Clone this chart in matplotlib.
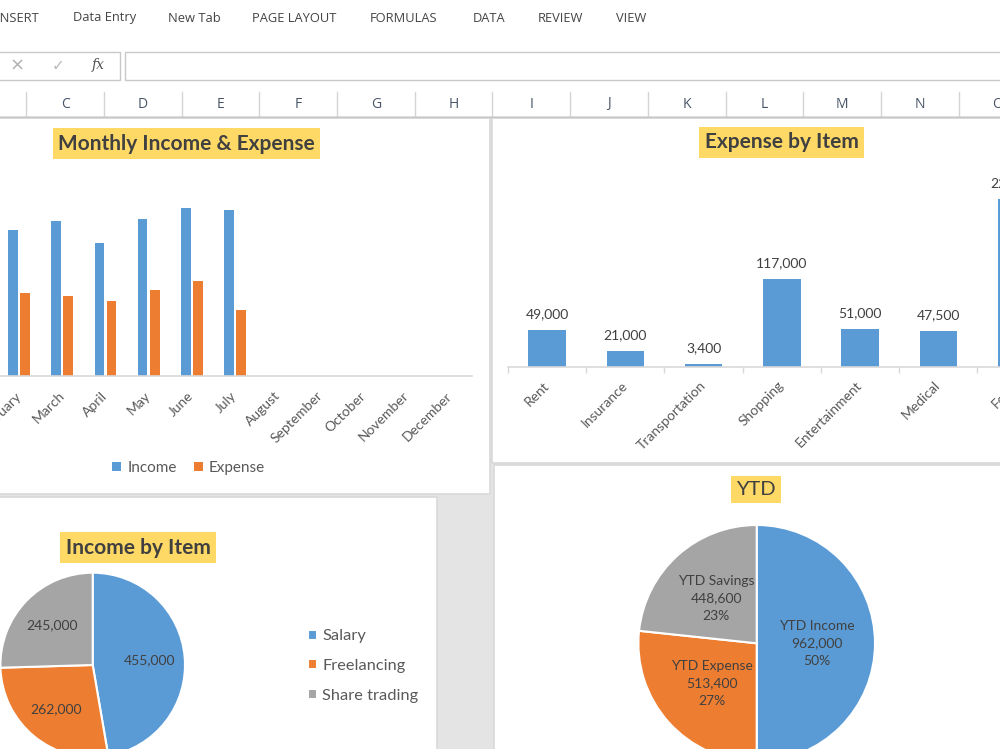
import numpy as np
import matplotlib
matplotlib.use('Agg')
import matplotlib.pyplot as plt
from matplotlib.patches import Rectangle

plt.rcParams['font.family'] = ['Lato', 'DejaVu Sans']

# ---- data ----
months = ['January', 'February', 'March', 'April', 'May', 'June', 'July',
          'August', 'September', 'October', 'November', 'December']
income = [132000, 131000, 139000, 119000, 141000, 151000, 149000]
expense = [78400, 74500, 71500, 67000, 77500, 85500, 59000]

exp_items = ['Rent', 'Insurance', 'Transportation', 'Shopping', 'Entertainment', 'Medical', 'Food']
exp_values = [49000, 21000, 3400, 117000, 51000, 47500, 224500]

inc_items = ['Salary', 'Freelancing', 'Share trading']
inc_values = [455000, 262000, 245000]

ytd_items = ['YTD Income', 'YTD Expense', 'YTD Savings']
ytd_values = [962000, 513400, 448600]

tabs = ['INSERT', 'Data Entry', 'New Tab', 'PAGE LAYOUT', 'FORMULAS', 'DATA', 'REVIEW', 'VIEW']
tab_x = [-3, 73, 168, 252, 370, 473, 538, 616]
col_letters = list('CDEFGHIJKLMNO')

blue, orange, grey = '#5b9bd5', '#ed7d31', '#a5a5a5'
gold = '#ffd966'
txt = '#595959'
dark = '#404040'

W, H = 1000, 749
fig = plt.figure(figsize=(10, 7.49), dpi=100)
fig.patch.set_facecolor('white')


def box(x0, y0, x1, y1):
    # pixel box (top-left origin) -> figure fraction rect
    return [x0 / W, 1 - y1 / H, (x1 - x0) / W, (y1 - y0) / H]


def rect(x0, y0, x1, y1, fc, ec='none', lw=1, z=-10):
    fig.add_artist(Rectangle((x0 / W, 1 - y1 / H), (x1 - x0) / W, (y1 - y0) / H,
                             transform=fig.transFigure, fc=fc, ec=ec, lw=lw, zorder=z))


# ---- excel chrome ----
for t, x in zip(tabs, tab_x):
    fig.text(x / W, 1 - 18 / H, t, fontsize=9.3, color='#444444', family='Open Sans',
             ha='left', va='center')

rect(-5, 52, 120, 80, 'white', '#c8c8c8', 1, z=-5)
rect(125, 52, 1010, 80, 'white', '#c8c8c8', 1, z=-5)
fig.text(17 / W, 1 - 66 / H, '\u00d7', fontsize=13, color='#b0b0b0', family='DejaVu Sans',
         ha='center', va='center')
fig.text(58 / W, 1 - 66 / H, '\u2713', fontsize=11, color='#b8b8b8', family='DejaVu Sans',
         ha='center', va='center')
fig.text(98 / W, 1 - 65 / H, 'fx', fontsize=10, color='#555555', family='DejaVu Serif',
         style='italic', ha='center', va='center')

for i, c in enumerate(col_letters):
    cx = 65 + i * 77.7
    fig.text(cx / W, 1 - 104 / H, c, fontsize=10, color='#465466', family='Open Sans',
             ha='center', va='center')
    fig.add_artist(plt.Line2D([(cx - 38.8) / W] * 2, [1 - 92 / H, 1 - 116 / H],
                              transform=fig.transFigure, color='#d4d4d4', lw=1, zorder=-5))

# sheet background + chart panels
rect(-5, 116, 1010, 760, '#e4e4e4')
fig.add_artist(plt.Line2D([0, 1], [1 - 116.5 / H] * 2, transform=fig.transFigure,
                          color='#c6c6c6', lw=1, zorder=-4))
rect(-10, 118, 490, 494, 'white', '#d9d9d9', 1.2, z=-8)
rect(492, 118, 1010, 463, 'white', '#d9d9d9', 1.2, z=-8)
rect(-10, 497, 436.5, 760, 'white', '#d9d9d9', 1.2, z=-8)
rect(493.5, 465, 1010, 760, 'white', '#d9d9d9', 1.2, z=-8)


def title(x, y, s, bold=True, size=15):
    fig.text(x / W, 1 - y / H, s, fontsize=size, color=dark,
             fontweight='bold' if bold else 'normal', ha='center', va='center',
             bbox=dict(boxstyle='square,pad=0.25', fc=gold, ec='none'))


# ---- chart 1: monthly income & expense ----
ax1 = fig.add_axes(box(-45.3, 175.7, 471.7, 375.7))
ax1.patch.set_visible(False)
x = np.arange(len(months))
n = len(income)
ax1.bar(x[:n] - 0.14, income, width=0.23, color=blue, label='Income')
ax1.bar(x[:n] + 0.14, expense, width=0.23, color=orange, label='Expense')
ax1.set_xlim(-0.5, 11.5)
ax1.set_ylim(0, 180000)
ax1.set_yticks([])
for s in ['top', 'right', 'left']:
    ax1.spines[s].set_visible(False)
ax1.spines['bottom'].set_color('#d9d9d9')
ax1.spines['bottom'].set_linewidth(1.2)
ax1.set_xticks(x, months, rotation=45, ha='right', va='center', rotation_mode='anchor')
ax1.tick_params(axis='x', length=0, pad=13, labelsize=10, labelcolor=txt)
ax1.legend(ncol=2, loc='center', bbox_to_anchor=(188.5 / W, 1 - 468 / H),
           bbox_transform=fig.transFigure, frameon=False, fontsize=11,
           handlelength=0.6, handleheight=0.6, handletextpad=0.4, columnspacing=1.1,
           labelcolor=txt)
title(186.5, 143.5, 'Monthly Income & Expense')

# ---- chart 2: expense by item ----
ax2 = fig.add_axes(box(508, 180.1, 1055.7, 366.7))
ax2.patch.set_visible(False)
xe = np.arange(len(exp_items))
bars = ax2.bar(xe, exp_values, width=0.48, color=blue)
ax2.bar_label(bars, labels=[f'{v:,}' for v in exp_values], padding=7, fontsize=10, color=dark)
ax2.set_xlim(-0.5, len(exp_items) - 0.5)
ax2.set_ylim(0, 250000)
ax2.set_yticks([])
for s in ['top', 'right', 'left']:
    ax2.spines[s].set_visible(False)
ax2.spines['bottom'].set_color('#d9d9d9')
ax2.spines['bottom'].set_linewidth(1.2)
ax2.set_xticks(xe, exp_items, rotation=45, ha='right', va='center', rotation_mode='anchor')
ax2.set_xticks(np.arange(-0.5, len(exp_items), 1), minor=True)
ax2.tick_params(axis='x', which='major', length=0, pad=12, labelsize=10, labelcolor=txt)
ax2.tick_params(axis='x', which='minor', length=4, width=1, color='#d9d9d9')
title(781.5, 142.5, 'Expense by Item')

# ---- chart 3: income by item ----
r3 = 92.3
ax3 = fig.add_axes(box(92.7 - r3, 665 - r3, 92.7 + r3, 665 + r3))
w3, _, at3 = ax3.pie(inc_values, colors=[blue, orange, grey], startangle=90, counterclock=False,
                     autopct='%1.0f%%', pctdistance=0.62,
                     wedgeprops=dict(edgecolor='white', linewidth=1.5),
                     textprops=dict(fontsize=10, color=dark))
for t, v in zip(at3, inc_values):
    t.set_text(f'{v:,}')
ax3.set_xlim(-1, 1)
ax3.set_ylim(-1, 1)
ax3.legend(w3, inc_items, loc='center left', bbox_to_anchor=(293 / W, 1 - 666 / H),
           bbox_transform=fig.transFigure, frameon=False, fontsize=11.8, labelcolor=txt,
           handlelength=0.55, handleheight=0.55, handletextpad=0.35, labelspacing=0.95)
title(138, 547.5, 'Income by Item')

# ---- chart 4: YTD ----
r4 = 118.3
ax4 = fig.add_axes(box(756.7 - r4, 643.3 - r4, 756.7 + r4, 643.3 + r4))
w4, _, at4 = ax4.pie(ytd_values, colors=[blue, orange, grey], startangle=90, counterclock=False,
                     autopct='%1.0f%%', pctdistance=0.51,
                     wedgeprops=dict(edgecolor='white', linewidth=1.5),
                     textprops=dict(fontsize=10, color=dark, linespacing=1.55))
for t, name, v in zip(at4, ytd_items, ytd_values):
    t.set_text(f'{name}\n{v:,}\n{t.get_text()}')
ax4.set_xlim(-1, 1)
ax4.set_ylim(-1, 1)
title(756, 489.5, 'YTD', bold=False, size=14.5)

fig.savefig('out.png', dpi=100)
